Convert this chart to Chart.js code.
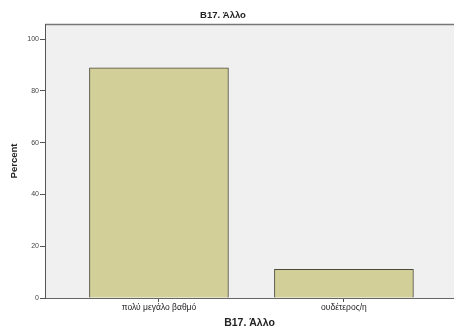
<!DOCTYPE html>
<html>
<head>
<meta charset="utf-8">
<script src="https://cdn.jsdelivr.net/npm/chart.js@4/dist/chart.umd.min.js"></script>
<style>
  html, body { margin: 0; padding: 0; background: #fff; }
  #wrap { width: 454px; height: 329px; position: relative; }
</style>
</head>
<body>
<div id="wrap"><canvas id="chart"></canvas></div>
<script>
// Data
const categories = ["πολύ μεγάλο βαθμό", "ουδέτερος/η"];
const percents = [88.9, 11.1];
const yTicks = [0, 20, 40, 60, 80, 100];
const chartTitle = "B17. Άλλο";

const FONT = "Arial, 'Liberation Sans', sans-serif";

// plot background + top border like SPSS
const plotBg = {
    id: "plotBg",
    beforeDraw(chart) {
        const { ctx, chartArea: a } = chart;
        ctx.save();
        ctx.fillStyle = "#f0f0f0";
        ctx.fillRect(a.left, a.top, a.right - a.left, a.bottom - a.top);
        ctx.strokeStyle = "#777";
        ctx.lineWidth = 1.5;
        ctx.beginPath();
        ctx.moveTo(a.left, a.top + 0.5);
        ctx.lineTo(a.right, a.top + 0.5);
        ctx.stroke();
        ctx.restore();
    },
    afterDraw(chart) {
        const { ctx } = chart;
        ctx.save();
        ctx.fillStyle = "#222";
        ctx.font = "bold 9.5px " + FONT;
        ctx.textAlign = "center";
        ctx.textBaseline = "middle";
        ctx.fillText(chartTitle, 223, 15);
        ctx.restore();
    }
};

const ctx = document.getElementById("chart").getContext("2d");
new Chart(ctx, {
    type: "bar",
    data: {
        datasets: [{
            data: percents.map((p, i) => ({ x: i + 1, y: p })),
            backgroundColor: "#d3cf98",
            borderColor: "#4a4a3a",
            borderWidth: 1,
            barThickness: 139
        }]
    },
    options: {
        responsive: true,
        maintainAspectRatio: false,
        animation: false,
        layout: { padding: { top: 24, right: 0, left: 0, bottom: 0 } },
        plugins: {
            legend: { display: false },
            tooltip: { enabled: false }
        },
        scales: {
            x: {
                type: "linear",
                offset: false,
                min: 0.384,
                max: 2.595,
                afterBuildTicks: axis => { axis.ticks = [1, 2].map(v => ({ value: v })); },
                afterFit: axis => { axis.height = 31; },
                grid: { display: true, offset: false, drawOnChartArea: false, drawTicks: true, tickLength: 4, color: "#555" },
                border: { display: true, color: "#666", width: 1 },
                ticks: {
                    color: "#222",
                    font: { size: 8.5, family: FONT },
                    padding: 1,
                    maxRotation: 0,
                    callback: v => categories[v - 1] || ""
                },
                title: {
                    display: true,
                    text: chartTitle,
                    color: "#222",
                    font: { size: 10.5, weight: "bold", family: FONT },
                    padding: { top: 3, bottom: 0 }
                }
            },
            y: {
                min: 0,
                max: 105.8,
                afterBuildTicks: axis => { axis.ticks = yTicks.map(v => ({ value: v })); },
                afterFit: axis => { axis.width = 45; },
                grid: { display: true, drawOnChartArea: false, drawTicks: true, tickLength: 5, color: "#555" },
                border: { display: true, color: "#555", width: 1 },
                ticks: {
                    color: "#444",
                    font: { size: 7, family: FONT },
                    padding: 1
                },
                title: {
                    display: true,
                    text: "Percent",
                    color: "#222",
                    font: { size: 9.5, weight: "bold", family: FONT },
                    padding: { top: 9, bottom: 0 }
                }
            }
        }
    },
    plugins: [plotBg]
});
</script>
</body>
</html>
